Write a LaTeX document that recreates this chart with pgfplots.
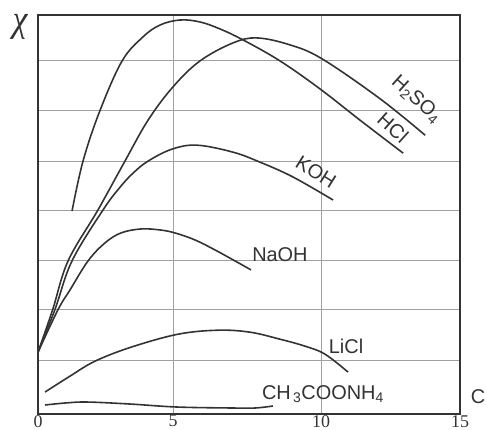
\documentclass[border=0pt]{standalone}
\usepackage{fontspec}
\setmainfont{Liberation Sans}
\newfontfamily\tickfont{Liberation Serif}
\usepackage{pgfplots}
\pgfplotsset{compat=1.18}
\definecolor{ink}{HTML}{333333}
\definecolor{gridgray}{HTML}{A0A0A0}
\tikzset{
  curve/.style={ink, line width=1.6pt, smooth, tension=0.6, mark=none},
  lbl/.style={font=\fontsize{20}{20}\selectfont, text=ink, inner sep=0pt},
}

\begin{document}
\begin{tikzpicture}
\begin{axis}[
    at={(0,0)}, anchor=origin,
    scale only axis, width=422bp, height=399bp,
    xmin=0, xmax=15, ymin=0, ymax=8,
    clip=false,
    xtick={0,4.8,10.06,15},
    xticklabels={0,5,10,15},
    ytick={1.08,2.09,3.07,4.09,5.07,6.08,7.08},
    yticklabels={},
    major tick length=0pt,
    grid=major,
    major grid style={gridgray, line width=0.9pt},
    axis line style={ink, line width=1.3pt},
    /pgf/number format/assume math mode=true,
    xticklabel style={font=\tickfont\fontsize{18}{18}\selectfont, text=ink, inner sep=1pt},
  ]
  % H2SO4-peak curve (ends at the HCl label)
  \addplot[curve] coordinates {
    (1.21,4.07) (1.60,5.07) (2.20,6.08) (2.99,7.08) (3.73,7.56) (4.34,7.80)
    (5.05,7.90) (5.76,7.86) (6.47,7.72) (7.29,7.50) (8.60,7.08) (10.02,6.52)
    (11.45,5.89) (12.98,5.23)
  };
  % curve from the origin (ends at the H2SO4 label)
  \addplot[curve] coordinates {
    (0,1.24) (0.52,2.09) (1.07,3.07) (2.13,4.09) (3.09,5.07) (3.91,5.89)
    (4.80,6.56) (5.76,7.08) (6.93,7.44) (7.79,7.54) (8.96,7.40) (10.10,7.12)
    (12.16,6.32) (13.76,5.59)
  };
  % KOH
  \addplot[curve] coordinates {
    (0,1.24) (0.60,2.09) (1.21,3.07) (2.31,4.09) (2.92,4.55) (3.38,4.83)
    (3.91,5.07) (4.76,5.31) (5.65,5.39) (6.93,5.25) (7.89,5.05)
    (9.07,4.75) (10.49,4.29)
  };
  % NaOH
  \addplot[curve] coordinates {
    (0,1.24) (0.71,2.09) (1.14,2.49) (1.78,3.07) (2.38,3.43) (2.95,3.63)
    (3.66,3.71) (4.34,3.69) (4.87,3.63) (5.58,3.49) (6.29,3.29) (7.00,3.07)
    (7.57,2.89)
  };
  % LiCl
  \addplot[curve] coordinates {
    (0.25,0.44) (1.14,0.76) (2.03,1.06) (3.31,1.34) (4.98,1.60) (6.40,1.68)
    (7.54,1.64) (8.60,1.50) (9.49,1.36) (10.20,1.20) (11.02,0.84)
  };
  % CH3COONH4
  \addplot[curve] coordinates {
    (0.25,0.18) (0.96,0.22) (1.74,0.24) (3.27,0.20) (4.94,0.14) (6.93,0.12)
    (7.71,0.12) (8.35,0.16)
  };

  \node[lbl] at (axis cs:8.60,3.19) {NaOH};
  \node[lbl] at (axis cs:10.95,1.36) {LiCl};
  \node[lbl] at (axis cs:10.13,0.40) {CH\textsubscript{\,3}COONH\textsubscript{4}};
  \node[lbl, rotate=-32] at (axis cs:9.88,4.85) {KOH};
  \node[lbl, rotate=-42] at (axis cs:12.62,5.74) {HCl};
  \node[lbl, rotate=-42] at (axis cs:13.45,6.30) {H\textsubscript{2}SO\textsubscript{4}};
  \node[lbl, xshift=18bp, yshift=17bp] at (rel axis cs:1,0) {C};
  \node[xshift=-18bp, yshift=-12bp, text=ink, inner sep=0pt] at (rel axis cs:0,1)
    {\scalebox{1}[1.1]{\fontspec{Liberation Serif}\itshape\fontsize{34}{34}\selectfont χ}};
\end{axis}
\pgfresetboundingbox
\path[use as bounding box] (-38bp,-16bp) rectangle (448bp,414bp);
\end{tikzpicture}
\end{document}
